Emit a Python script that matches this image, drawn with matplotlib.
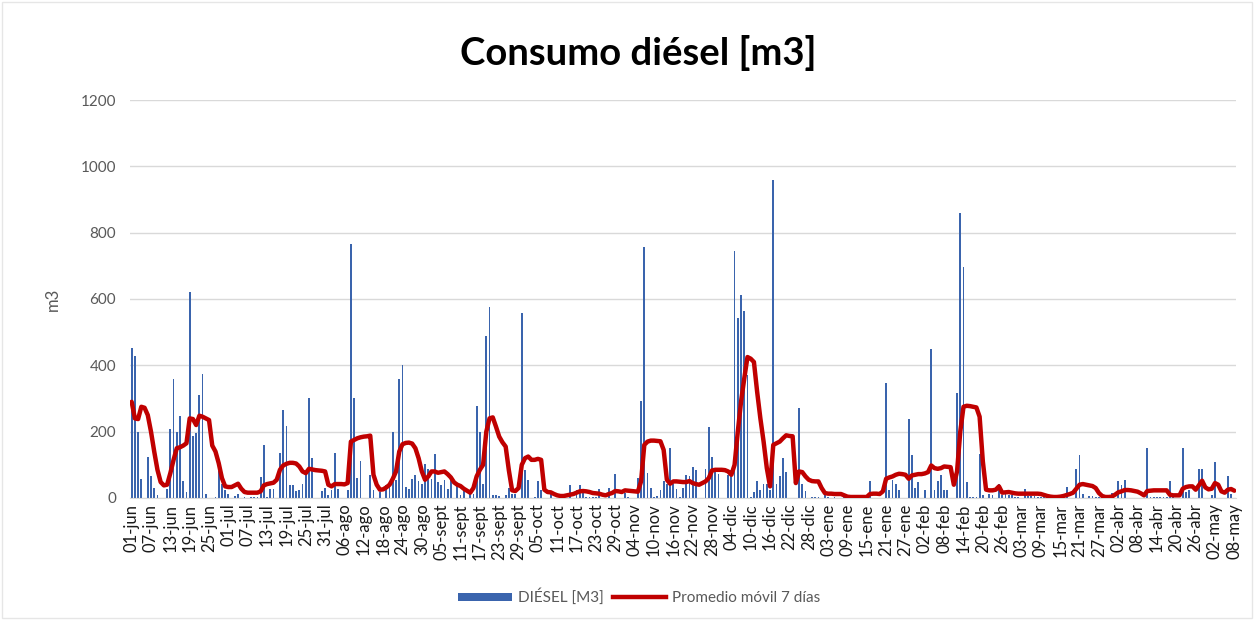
import matplotlib
matplotlib.use("Agg")
import matplotlib.pyplot as plt
from matplotlib.lines import Line2D
from matplotlib.patches import Patch, Rectangle
import pandas as pd

plt.rcParams["font.family"] = ["Lato", "DejaVu Sans"]

# consumo diario (m3), desde el 01-jun
diesel = [
    453, 428, 200, 58, 0, 123, 65, 31, 10, 0,
    0, 28, 207, 358, 200, 247, 50, 18, 620, 188,
    195, 311, 373, 13, 0, 0, 3, 80, 43, 23,
    13, 0, 6, 13, 0, 3, 0, 3, 3, 3,
    63, 161, 3, 26, 28, 0, 136, 266, 216, 38,
    38, 20, 23, 43, 75, 300, 122, 0, 0, 20,
    31, 10, 23, 136, 26, 0, 0, 23, 765, 302,
    61, 113, 0, 0, 68, 23, 0, 18, 0, 38,
    43, 198, 53, 360, 400, 33, 28, 58, 68, 50,
    41, 103, 88, 58, 133, 48, 38, 55, 26, 53,
    0, 38, 8, 23, 0, 13, 13, 278, 198, 43,
    488, 577, 10, 10, 5, 0, 10, 31, 13, 13,
    0, 558, 83, 55, 0, 3, 50, 23, 0, 0,
    13, 0, 0, 0, 0, 0, 38, 0, 23, 38,
    18, 3, 3, 3, 3, 26, 0, 0, 31, 0,
    71, 0, 0, 16, 3, 0, 0, 60, 293, 756,
    76, 31, 3, 6, 25, 50, 43, 151, 43, 26,
    3, 31, 68, 66, 93, 83, 0, 0, 86, 213,
    125, 78, 73, 0, 0, 68, 83, 746, 543, 613,
    563, 371, 3, 18, 50, 23, 43, 43, 23, 958,
    43, 65, 121, 78, 0, 0, 0, 270, 43, 20,
    0, 3, 3, 3, 0, 8, 3, 0, 2, 0,
    0, 2, 0, 0, 0, 2, 0, 0, 0, 50,
    0, 0, 0, 0, 346, 23, 53, 43, 23, 0,
    0, 238, 131, 31, 48, 0, 25, 0, 448, 25,
    50, 68, 25, 23, 0, 0, 318, 860, 695, 47,
    3, 3, 3, 133, 8, 0, 13, 10, 0, 43,
    8, 13, 8, 8, 3, 3, 0, 28, 6, 6,
    6, 3, 2, 2, 0, 2, 0, 2, 0, 2,
    33, 0, 0, 88, 131, 13, 0, 6, 6, 3,
    3, 0, 0, 0, 16, 0, 50, 38, 55, 0,
    0, 0, 0, 0, 0, 151, 3, 3, 3, 3,
    3, 3, 50, 3, 0, 0, 151, 18, 23, 0,
    0, 86, 88, 0, 0, 8, 108, 0, 0, 0,
    65, 13, 0,
]

promedio = [
    290, 240, 238, 275, 272, 250, 200, 140, 85, 48,
    38, 40, 75, 115, 150, 153, 158, 165, 240, 238,
    220, 248, 245, 240, 235, 158, 140, 105, 60, 35,
    33, 33, 38, 43, 28, 18, 16, 16, 16, 16,
    20, 38, 42, 44, 46, 55, 85, 98, 103, 106,
    106, 104, 95, 80, 75, 88, 86, 84, 83, 82,
    80, 40, 35, 42, 42, 42, 41, 45, 170, 175,
    180, 183, 185, 186, 188, 70, 40, 25, 26, 32,
    40, 58, 80, 140, 162, 166, 167, 164, 150, 120,
    80, 55, 65, 80, 80, 76, 78, 80, 72, 62,
    47, 40, 36, 28, 22, 16, 30, 65, 85, 100,
    200, 240, 243, 215, 185, 168, 155, 83, 23, 21,
    30, 100, 120, 125, 115, 115, 118, 115, 25, 18,
    17, 12, 8, 6, 6, 8, 10, 12, 16, 20,
    21, 20, 18, 15, 14, 13, 10, 8, 12, 15,
    21, 20, 18, 23, 22, 21, 20, 19, 50, 160,
    170, 173, 173, 172, 171, 145, 55, 43, 50, 50,
    49, 48, 48, 51, 45, 42, 40, 45, 50, 60,
    83, 85, 85, 85, 84, 80, 70, 100, 200, 290,
    360, 425, 420, 410, 320, 240, 170, 90, 35, 160,
    165, 170, 180, 189, 187, 186, 45, 80, 78, 65,
    55, 51, 50, 50, 30, 15, 13, 13, 12, 12,
    12, 8, 4, 3, 3, 3, 3, 3, 3, 12,
    13, 13, 12, 20, 58, 62, 65, 70, 73, 72,
    70, 58, 68, 70, 72, 72, 74, 78, 98, 90,
    88, 90, 95, 94, 93, 40, 80, 200, 275, 278,
    277, 275, 273, 245, 110, 25, 23, 23, 25, 35,
    16, 17, 18, 16, 14, 13, 13, 13, 13, 13,
    13, 13, 12, 9, 6, 4, 3, 3, 4, 6,
    9, 12, 16, 28, 40, 42, 40, 38, 36, 30,
    15, 6, 3, 3, 4, 10, 17, 20, 24, 24,
    23, 21, 19, 14, 8, 21, 22, 23, 23, 23,
    23, 23, 10, 8, 8, 8, 28, 33, 35, 35,
    25, 38, 52, 32, 26, 28, 45, 40, 20, 16,
    25, 27, 22,
]

meses = ["ene", "feb", "mar", "abr", "may", "jun",
         "jul", "ago", "sept", "oct", "nov", "dic"]
fechas = pd.date_range("2019-06-01", periods=len(diesel), freq="D")
etiquetas = [f"{d.day:02d}-{meses[d.month - 1]}" for d in fechas]

x = list(range(len(diesel)))

fig = plt.figure(figsize=(12.54, 6.2), dpi=100)
ax = fig.add_axes([0.1037, 0.1968, 0.8819, 0.6419])

ax.bar(x, diesel, width=0.55, color="#3a64ad", zorder=2)
ax.plot(x, promedio, color="#c00000", linewidth=3.2, zorder=3,
        solid_joinstyle="round", solid_capstyle="round")

ax.set_xlim(-0.5, len(diesel) - 0.5)
ax.set_ylim(0, 1200)
ax.set_yticks(range(0, 1201, 200))
ax.yaxis.grid(True, color="#d9d9d9", linewidth=1.0, zorder=0)
ax.set_axisbelow(True)

ax.set_xticks(x[::6])
ax.set_xticklabels(etiquetas[::6], rotation=90, fontsize=12, color="#1a1a1a")
ax.tick_params(axis="x", length=0, pad=4)
ax.tick_params(axis="y", length=0, pad=10, labelsize=11, labelcolor="#595959")

for s in ["top", "right", "left"]:
    ax.spines[s].set_visible(False)
ax.spines["bottom"].set_color("#d9d9d9")

ax.set_ylabel("m3", fontsize=12, color="#595959", labelpad=14)
fig.text(0.509, 0.915, "Consumo diésel [m3]", ha="center", va="center",
         fontsize=27.5, fontweight="bold", color="black")

handles = [
    Patch(facecolor="#3a64ad", edgecolor="none"),
    Line2D([0], [0], color="#c00000", linewidth=3.2),
]
fig.legend(handles, ["DIÉSEL [M3]", "Promedio móvil 7 días"],
           loc="center", bbox_to_anchor=(0.51, 0.037), ncol=2, frameon=False,
           fontsize=11, labelcolor="#595959", handlelength=3.5,
           handleheight=0.5, columnspacing=0.6, handletextpad=0.4)

fig.patches.append(Rectangle((0.0015, 0.003), 0.997, 0.994, transform=fig.transFigure,
                             fill=False, edgecolor="#e6e6e6", linewidth=1))

fig.savefig("out.png", dpi=100)
